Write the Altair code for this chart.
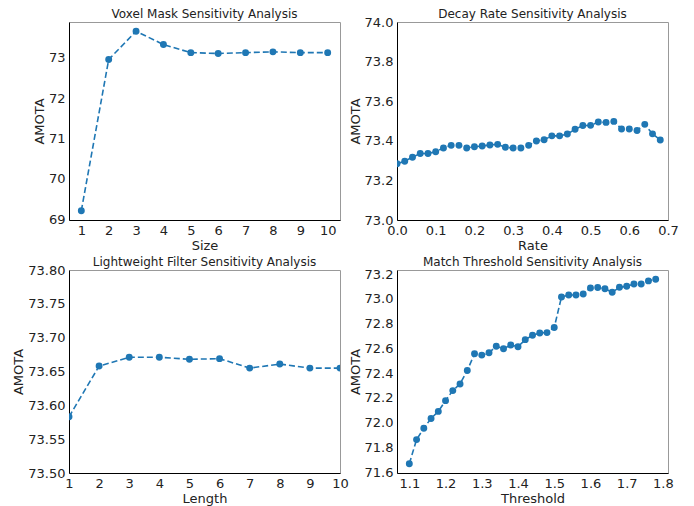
import altair as alt
import pandas as pd

# ---- data ----
voxel_size = [1, 2, 3, 4, 5, 6, 7, 8, 9, 10]
voxel_amota = [69.21, 72.96, 73.66, 73.33, 73.13, 73.11, 73.13, 73.15, 73.13, 73.13]

decay_rate = [0.00, 0.02, 0.04, 0.06, 0.08, 0.10, 0.12, 0.14, 0.16, 0.18,
              0.20, 0.22, 0.24, 0.26, 0.28, 0.30, 0.32, 0.34, 0.36, 0.38,
              0.40, 0.42, 0.44, 0.46, 0.48, 0.50, 0.52, 0.54, 0.56, 0.58,
              0.60, 0.62, 0.64, 0.66, 0.68]
decay_amota = [73.284, 73.297, 73.317, 73.336, 73.336, 73.345, 73.364, 73.377, 73.377, 73.364,
               73.370, 73.374, 73.379, 73.382, 73.367, 73.364, 73.364, 73.377, 73.399, 73.405,
               73.425, 73.425, 73.434, 73.458, 73.477, 73.478, 73.495, 73.493, 73.498, 73.460,
               73.460, 73.452, 73.483, 73.435, 73.404]

filter_length = [1, 2, 3, 4, 5, 6, 7, 8, 9, 10]
filter_amota = [73.583, 73.658, 73.671, 73.671, 73.668, 73.669, 73.655, 73.661, 73.655, 73.655]

match_threshold = [1.10, 1.12, 1.14, 1.16, 1.18, 1.20, 1.22, 1.24, 1.26, 1.28,
                   1.30, 1.32, 1.34, 1.36, 1.38, 1.40, 1.42, 1.44, 1.46, 1.48,
                   1.50, 1.52, 1.54, 1.56, 1.58, 1.60, 1.62, 1.64, 1.66, 1.68,
                   1.70, 1.72, 1.74, 1.76, 1.78]
match_amota = [71.668, 71.863, 71.955, 72.034, 72.091, 72.178, 72.259, 72.313, 72.422, 72.557,
               72.546, 72.565, 72.617, 72.598, 72.628, 72.614, 72.671, 72.706, 72.725, 72.728,
               72.769, 73.016, 73.032, 73.032, 73.040, 73.089, 73.092, 73.083, 73.054, 73.094,
               73.102, 73.121, 73.121, 73.146, 73.159]

titles = ["Voxel Mask Sensitivity Analysis", "Decay Rate Sensitivity Analysis",
          "Lightweight Filter Sensitivity Analysis", "Match Threshold Sensitivity Analysis"]

BLUE = "#1f77b4"
FONT = "DejaVu Sans"
W = 271


def panel(xs, ys, title, xtitle, xdomain, ydomain, xticks, yticks, xfmt, yfmt, clip, h):
    df = pd.DataFrame({"x": xs, "y": ys})
    base = alt.Chart(df).encode(
        x=alt.X("x:Q", title=xtitle,
                scale=alt.Scale(domain=xdomain, nice=False, zero=False),
                axis=alt.Axis(values=xticks, format=xfmt)),
        y=alt.Y("y:Q", title="AMOTA",
                scale=alt.Scale(domain=ydomain, nice=False, zero=False),
                axis=alt.Axis(values=yticks, format=yfmt)),
    )
    line = base.mark_line(color=BLUE, strokeWidth=1.6, strokeDash=[6, 3], clip=clip)
    pts = base.mark_circle(color=BLUE, size=48, opacity=1, clip=clip)
    ttl = alt.Chart(pd.DataFrame({"t": [title]})).mark_text(
        font=FONT, fontSize=12, color="#222222", baseline="alphabetic", align="center"
    ).encode(text="t:N", x=alt.value(W / 2), y=alt.value(-4))
    return alt.layer(line, pts, ttl).properties(width=W, height=h)


p1 = panel(voxel_size, voxel_amota, titles[0], "Size",
           [0.55, 10.45], [68.98, 73.89], voxel_size, [69, 70, 71, 72, 73], "d", "d", False, 198)
p2 = panel(decay_rate, decay_amota, titles[1], "Rate",
           [0.0, 0.7], [73.0, 74.0], [0.0, 0.1, 0.2, 0.3, 0.4, 0.5, 0.6, 0.7],
           [73.0, 73.2, 73.4, 73.6, 73.8, 74.0], ".1f", ".1f", True, 198)
p3 = panel(filter_length, filter_amota, titles[2], "Length",
           [1, 10], [73.5, 73.8], filter_length,
           [73.50, 73.55, 73.60, 73.65, 73.70, 73.75, 73.80], "d", ".2f", True, 203)
p4 = panel(match_threshold, match_amota, titles[3], "Threshold",
           [1.066, 1.814], [71.593, 73.234], [1.1, 1.2, 1.3, 1.4, 1.5, 1.6, 1.7, 1.8],
           [71.6, 71.8, 72.0, 72.2, 72.4, 72.6, 72.8, 73.0, 73.2], ".1f", ".1f", False, 203)

chart = alt.concat(p1, p2, p3, p4, columns=2,
                   spacing=alt.RowColnumber(row=50, column=57)).properties(
    bounds="flush",
    padding={"left": 4, "top": -1, "right": 5, "bottom": 2},
).configure_view(
    stroke="#999999", strokeWidth=1
).configure_axis(
    grid=False, ticks=False, domainColor="black", domainWidth=1,
    labelFont=FONT, labelFontSize=13, labelColor="#222222", labelPadding=4,
    labelFlush=False, labelOverlap=False,
    titleFont=FONT, titleFontSize=13, titleFontWeight="normal", titleColor="#222222",
    titlePadding=2,
)

chart.save("out.html", embed_options={"renderer": "svg", "actions": False})
